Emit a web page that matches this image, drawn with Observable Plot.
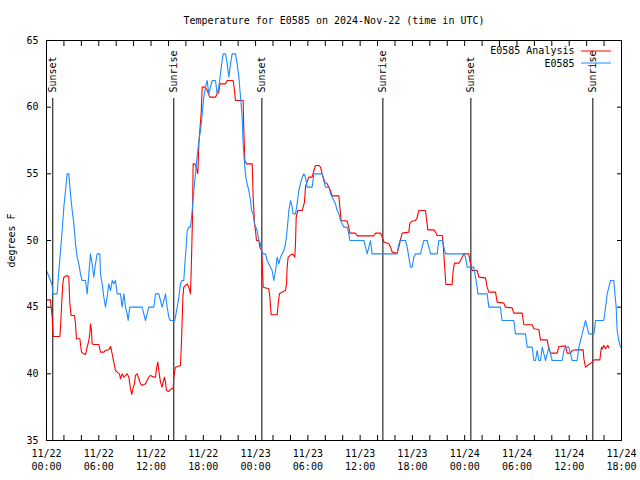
<!DOCTYPE html>
<html>
<head>
<meta charset="utf-8">
<script src="https://cdn.jsdelivr.net/npm/d3@7"></script>
<script src="https://cdn.jsdelivr.net/npm/@observablehq/plot@0.6"></script>
<style>
  html, body { margin: 0; padding: 0; background: white; }
</style>
</head>
<body>
<div id="chart"></div>
<script>
const titleText = "Temperature for E0585 on 2024-Nov-22 (time in UTC)";
const yLabelText = "degrees F";
const seriesNames = ["E0585 Analysis", "E0585"];
const seriesColors = ["#ff0000", "#1e8cff"];

// hours since 2024-11-22 00:00 UTC
const analysisHours = [0,0.46,0.65,0.77,1.53,1.61,1.72,1.87,1.99,2.37,2.56,2.68,2.83,3.21,3.33,3.44,3.83,3.90,4.02,4.28,4.48,4.67,4.86,4.97,5.05,5.16,5.24,5.43,6.01,6.20,6.58,6.77,7.15,7.35,7.46,7.65,7.80,7.92,8.11,8.38,8.49,8.68,8.88,9.07,9.26,9.45,9.64,9.79,9.95,10.1,10.21,10.41,10.6,10.79,10.98,11.36,11.55,11.74,11.94,12.32,12.51,12.62,12.78,12.89,13.08,13.27,13.39,13.54,13.66,13.77,14.04,14.31,14.54,14.61,14.8,15.38,15.5,15.65,15.76,16.15,16.34,16.53,16.64,16.76,16.83,17.03,17.18,17.37,17.49,17.6,17.75,17.87,18.25,18.44,18.75,19.4,19.59,19.78,19.9,20.55,20.74,21.43,21.58,21.69,22.57,22.65,22.77,22.96,23.61,23.72,23.88,23.99,24.1,24.37,24.49,24.68,24.76,24.87,25.52,25.64,25.71,25.79,26.48,26.59,26.74,27.05,27.43,27.55,27.62,27.74,28.2,28.39,28.5,28.58,28.66,28.85,29.35,29.61,29.73,30.11,30.49,30.69,30.88,31.26,31.45,31.64,31.95,32.22,32.41,32.6,32.79,33.56,33.67,33.82,34.51,34.7,34.82,35.47,35.66,37.57,37.76,38.34,38.53,38.72,39.3,39.49,39.68,40.25,40.44,40.63,40.82,41.59,41.71,41.97,42.36,42.55,42.74,43.5,43.69,43.77,44.46,44.65,44.84,45.42,45.53,45.68,45.84,46.56,46.68,46.83,47.33,47.52,47.71,47.9,48.48,48.59,48.86,49.43,49.63,50.39,50.58,50.77,51.54,51.73,52.5,52.69,53.45,53.64,54.6,54.79,55.75,55.94,56.51,56.7,57.47,57.66,57.85,58.62,58.81,59.57,59.76,60.15,60.34,60.72,61.6,61.68,61.87,62.25,62.63,62.83,63.52,63.59,63.71,63.82,63.97,64.17,64.43,64.55];
const analysisTemps = [45.55,45.55,44.25,42.8,42.8,43.5,45,46.75,47.25,47.38,47.25,45.25,44.38,44.38,43.75,42.63,42.63,42.25,41.63,41.5,41.45,42,42.5,43,43.75,43.25,42.25,42.2,42.2,41.63,41.63,41.75,41.8,42.05,41.75,41.13,40.63,40.25,40.13,40,39.63,40,39.75,39.88,40,39.75,38.88,38.45,39,39.25,39.88,40,39.63,39.25,39.13,39.25,39.5,39.75,39.88,39.75,39.75,40.38,40.88,40.25,39.38,39,39.38,39.75,39.38,38.75,38.68,38.88,38.88,39.75,40.5,40.63,42.5,45.75,46.5,46.75,46.5,46,48.5,51.75,55.75,55.75,55.5,55,57.25,58.25,59.5,61.5,61.5,61.25,60.75,60.75,61,61.13,61.75,61.75,62,62,61.25,60.5,60.5,58.25,56,55.75,55.75,53.25,51.25,50.75,50,50,49.5,49.25,48.25,46.5,46.38,45.75,45,44.43,44.43,45.25,46,46.13,46.25,46.75,48,48.75,49,48.88,48.75,49.75,51.75,52.25,52.25,52.88,54.05,54.75,54.75,55.25,55.63,55.63,55.5,55,54.38,54.25,54,53.75,53.35,53.35,52.5,51.5,51.45,51,50.55,50.55,50.35,50.35,50.55,50.55,50.25,49.88,49.75,49.5,49.13,49.05,49.5,50.05,50.55,50.63,51.3,51.45,51.5,51.75,52.25,52.25,51.25,50.8,50.8,50.63,50.38,50.38,49.75,48.25,46.7,46.7,47.75,48.3,48.3,48.5,48.75,49,49,48.5,47.75,47.75,47.25,47.2,46.5,46.13,46.13,45.38,45.3,45,44.95,44.55,44.55,43.68,43.68,43.38,43.33,42.55,42.55,41.88,41.55,41.55,42.05,42.1,41.55,41.55,41.75,41.8,41.8,41.13,40.5,40.7,40.88,41.05,41.05,41.5,42,41.88,42.13,41.88,42.13,41.95];

const obsHours = [0,0.38,0.65,0.73,1.22,1.42,1.61,1.80,1.99,2.18,2.37,2.56,2.75,2.95,3.14,3.33,3.52,3.71,3.90,4.09,4.48,4.67,4.86,5.05,5.24,5.43,5.62,5.81,6.12,6.20,6.39,6.58,6.77,6.96,7.15,7.35,7.54,7.73,7.92,8.11,8.49,8.68,8.88,9.07,9.26,9.37,9.56,10.98,11.17,11.36,11.55,11.74,12.32,12.51,12.89,13.08,13.27,13.47,13.66,13.85,14.04,14.23,14.73,15.0,15.19,15.38,15.57,15.76,15.88,16.03,16.15,16.34,16.53,16.72,16.91,17.10,17.29,17.49,17.68,17.87,18.06,18.25,18.44,18.63,18.82,19.02,19.40,19.59,19.78,19.97,20.16,20.28,20.55,20.74,20.93,21.12,21.31,21.69,21.89,22.08,22.27,22.46,22.57,22.73,22.88,23.03,23.22,23.42,23.53,23.72,23.88,24.03,24.18,24.37,24.56,24.68,24.87,25.14,25.33,25.52,25.71,25.90,26.09,26.29,26.48,26.67,26.86,27.05,27.24,27.43,27.62,27.82,28.01,28.20,28.31,28.58,28.77,28.96,29.15,29.35,29.54,29.73,29.92,30.49,30.69,31.64,31.83,32.02,32.41,32.6,32.79,32.98,33.17,33.36,33.56,33.75,33.94,34.13,34.51,34.70,34.82,36.43,36.62,36.81,37.00,37.19,37.38,40.25,40.37,40.56,41.21,41.40,41.59,41.78,41.97,42.16,42.36,42.93,43.12,43.31,43.69,43.89,44.08,44.84,45.03,45.42,45.61,45.80,47.90,48.09,48.29,49.05,49.24,49.43,49.51,50.58,50.77,52.11,52.19,52.30,53.64,53.83,54.98,55.17,55.75,55.94,56.13,56.32,56.51,56.70,56.90,57.28,57.47,57.66,57.85,58.04,59.19,59.38,59.57,59.96,60.15,60.34,60.91,61.1,61.3,61.49,61.68,61.87,62.06,62.25,62.83,63.02,63.97,64.17,64.36,64.55,64.74,65.12,65.24,65.39,65.5,65.69,65.89];
const obsTemps = [47.75,47.13,46.63,46,46,47.75,49.25,50.75,52.5,53.75,55,55,53.5,52.25,51.25,49.75,48.75,48.25,47.5,47,47,46,47.5,49,48.25,47.25,48.25,49,49,47.5,46.75,45.75,45,45.75,46.75,46.25,47,46.75,47,46,46,45,46,45,44.5,44,45,45,44.5,44,44.5,45,45,46,46,45.5,45,45.5,46,45,44.25,44,44,45,45.75,46.75,47,47,48.25,49.5,50.75,51,51,52.25,53.75,55,56.25,57.5,58.25,59.5,60.75,61.5,62,61,61.5,62,62,61,61.5,62.5,63.5,64,64,63.25,62.25,63.25,64,64,63.25,62.25,60.75,59.25,57.25,55.75,54.75,54.25,53.75,53,52.25,52,51.25,51,50.75,50,49.75,49.25,49,49,48.5,48.25,48,47.75,47,47.75,48.75,48.25,48.75,49,49.25,49.75,50.75,52.25,53,52.5,52,52,52.75,53.75,54.25,54.75,55,54.75,54,54,55,55,54.5,54,54,53.5,53.25,53,52.75,52.25,52,51.5,51.25,51,51,50.5,50,50,49.5,49,49.5,50,49,49,49.5,50,50,49.5,48.75,48,48,48.75,49,49,49.5,50,50,49.5,49,49,50,50,49.5,49,49,48.75,48,48,47.25,46.5,46,46,45,45,44.5,44,44,43,43,42,42,41,41,41.75,41,41,42,41,41.5,42,41.5,41,41,41.75,42,42,41.5,41,41,42,42.5,43,43.5,44,43.5,43,43,44,44,45,46,46.5,47,47,46,45,43.25,42.5,42];

const eventHours = [0.72, 14.61, 24.72, 38.61, 48.71, 62.71];
const eventLabels = ["Sunset", "Sunrise", "Sunset", "Sunrise", "Sunset", "Sunrise"];

const yTicks = [35, 40, 45, 50, 55, 60, 65];
const xStartHour = 0;
const xEndHour = 66;
const majorStepHours = 6;
const minorStepHours = 2;

const T0 = Date.UTC(2024, 10, 22);
const toDate = h => new Date(T0 + h * 3600000);

const analysis = analysisHours.map((h, i) => ({t: toDate(h), v: analysisTemps[i]}));
const obs = obsHours.map((h, i) => ({t: toDate(h), v: obsTemps[i]}));
const events = eventHours.map((h, i) => ({t: toDate(h), label: eventLabels[i]}));
const majorTicks = d3.range(xStartHour, xEndHour + 0.001, majorStepHours).map(toDate);
const minorTicks = d3.range(xStartHour, xEndHour + 0.001, minorStepHours).map(toDate);
const fmt = d3.utcFormat("%m/%d\n%H:%M");
const blank = () => "";

const lineShape = {draw(context, l) { context.moveTo(0, 0); context.lineTo(0, -l); }};

const chart = Plot.plot({
  width: 640,
  height: 480,
  marginLeft: 46,
  marginRight: 19,
  marginTop: 40,
  marginBottom: 40,
  style: {fontFamily: "'DejaVu Sans Mono', monospace", fontSize: "10px", background: "white", color: "black"},
  x: {type: "utc", domain: [toDate(xStartHour), toDate(xEndHour)]},
  y: {domain: [35, 65]},
  marks: [
    Plot.axisX({anchor: "bottom", ticks: minorTicks, tickSize: -5, tickFormat: blank, label: null}),
    Plot.axisX({anchor: "top", ticks: minorTicks, tickSize: -5, tickFormat: blank, label: null}),
    Plot.axisX({anchor: "bottom", ticks: majorTicks, tickSize: 0, tickPadding: 7, tickFormat: fmt, lineHeight: 1.3, label: null}),
    Plot.axisY({anchor: "left", ticks: yTicks, tickSize: -5, tickFormat: blank, label: null}),
    Plot.axisY({anchor: "right", ticks: yTicks, tickSize: -5, tickFormat: blank, label: null}),
    Plot.axisY({anchor: "left", ticks: yTicks, tickSize: 0, tickPadding: 8, label: null}),
    Plot.ruleX(events, {x: "t", insetTop: 58, stroke: "black", strokeWidth: 1}),
    Plot.text(events, {x: "t", frameAnchor: "top", dy: 52, text: "label", rotate: -90, textAnchor: "start", lineAnchor: "middle", fill: "black"}),
    Plot.line(analysis, {x: "t", y: "v", stroke: seriesColors[0], strokeWidth: 1.1}),
    Plot.line(obs, {x: "t", y: "v", stroke: seriesColors[1], strokeWidth: 1.1}),
    Plot.text([seriesNames[0]], {frameAnchor: "top-right", dx: -47, dy: 10.5, textAnchor: "end", lineAnchor: "middle", text: d => d, fill: "black"}),
    Plot.text([seriesNames[1]], {frameAnchor: "top-right", dx: -47, dy: 23, textAnchor: "end", lineAnchor: "middle", text: d => d, fill: "black"}),
    Plot.vector([0], {frameAnchor: "top-right", dx: -40, dy: 10.5, length: 29, rotate: 90, anchor: "start", shape: lineShape, stroke: seriesColors[0], strokeWidth: 1}),
    Plot.vector([0], {frameAnchor: "top-right", dx: -40, dy: 22.5, length: 29, rotate: 90, anchor: "start", shape: lineShape, stroke: seriesColors[1], strokeWidth: 1}),
    Plot.text([titleText], {frameAnchor: "top", dy: -20, lineAnchor: "middle", text: d => d, fill: "black"}),
    Plot.text([yLabelText], {frameAnchor: "left", dx: -35, rotate: -90, textAnchor: "middle", lineAnchor: "middle", text: d => d, fill: "black"}),
    Plot.frame({stroke: "black"})
  ]
});
document.getElementById("chart").appendChild(chart);
</script>
</body>
</html>
